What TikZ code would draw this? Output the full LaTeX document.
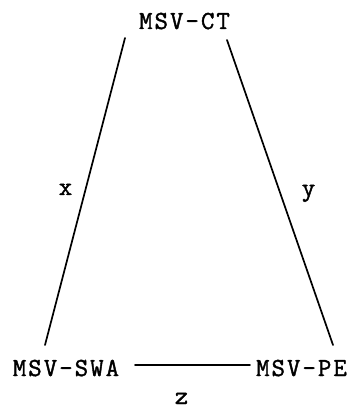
\documentclass[tikz,border=0pt]{standalone}
\usepackage{fontspec}
\setmonofont{Latin Modern Mono}[LetterSpace=8,FakeBold=1.5]
\begin{document}
\begin{tikzpicture}[x=1pt,y=-1pt,
  lbl/.style={font=\ttfamily\fontsize{26}{26}\selectfont, inner sep=0pt, anchor=base},
  conn/.style={line width=1.7pt, line cap=round}]
\useasboundingbox (0,0) rectangle (353,411);
% nodes
\node[lbl] (ct)  at (184.5,29)  {MSV-CT};
\node[lbl] (swa) at (66,376)  {MSV-SWA};
\node[lbl] (pe)  at (301.5,376) {MSV-PE};
% edge labels
\node[lbl] (lx) at (65.5,195) {x};
\node[lbl] (ly) at (308.5,196) {y};
\node[lbl] (lz) at (181.5,404) {z};
% connector end points
\coordinate (ct-l) at (125,38);
\coordinate (ct-r) at (227,40);
\coordinate (swa-t) at (45,345);
\coordinate (pe-t) at (333,345);
\coordinate (swa-r) at (135,365);
\coordinate (pe-l) at (250,365);
% connectors
\draw[conn] (ct-l) -- (swa-t);
\draw[conn] (ct-r) -- (pe-t);
\draw[conn] (swa-r) -- (pe-l);
\end{tikzpicture}
\end{document}
